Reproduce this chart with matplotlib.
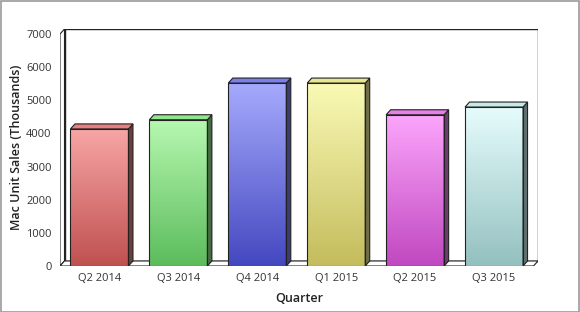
import numpy as np
import matplotlib
matplotlib.use('Agg')
import matplotlib.pyplot as plt
from matplotlib.patches import Polygon, Rectangle
from matplotlib.colors import LinearSegmentedColormap, to_rgb

# Mac unit sales per quarter (thousands)
quarters = ['Q2 2014', 'Q3 2014', 'Q4 2014', 'Q1 2015', 'Q2 2015', 'Q3 2015']
sales = [4136, 4413, 5520, 5519, 4563, 4796]

# gradient colours for each bar: top, bottom
top_colors = ['#f8a6a6', '#b6f8b0', '#a6aafc', '#fafab6', '#fca6fc', '#e6fcfc']
bottom_colors = ['#c05050', '#5cbc5c', '#4448c0', '#c4bc5c', '#c048c0', '#94c0c0']

plt.rcParams['font.family'] = ['Open Sans', 'DejaVu Sans']

W, H = 580, 312
fig = plt.figure(figsize=(W / 100, H / 100), dpi=100)
fig.patch.set_facecolor('white')
fig.add_artist(Rectangle((0.5 / W, 0.5 / H), 1 - 1.5 / W, 1 - 1.5 / H,
                         transform=fig.transFigure, fill=False,
                         edgecolor='#999999', linewidth=1.2))

# axes box in pixels: x 60..538, y 29..266 (from top)
ax = fig.add_axes([60 / W, (H - 266) / H, (538 - 60) / W, (266 - 29) / H])

ymax = 7000
px_x = (533 - 60) / 6.0          # pixels per category
px_y = (266 - 35) / ymax         # pixels per unit
dx = 4.5 / px_x                  # depth offset in data units
dy = 5.0 / px_y

for s in ax.spines.values():
    s.set_visible(False)
ax.patch.set_alpha(0)

edge = '#222222'
# back wall, left wall, floor
ax.add_patch(Rectangle((-0.5 + dx, dy), 6, ymax, facecolor='white',
                       edgecolor=edge, linewidth=1.0, zorder=0))
ax.add_patch(Polygon([(-0.5, 0), (-0.5, ymax), (-0.5 + dx, ymax + dy),
                      (-0.5 + dx, dy)], closed=True, facecolor='white',
                     edgecolor=edge, linewidth=0.8, zorder=0.5))
ax.add_patch(Polygon([(-0.5, 0), (5.5, 0), (5.5 + dx, dy), (-0.5 + dx, dy)],
                     closed=True, facecolor='white', edgecolor=edge,
                     linewidth=0.8, zorder=0.5))


def shade(c, f):
    r, g, b = to_rgb(c)
    return (r * f, g * f, b * f)


w = 0.735
x = np.arange(len(quarters))
bars = ax.bar(x, sales, width=w, facecolor='none', edgecolor=edge,
              linewidth=0.8, zorder=3)
grad = np.linspace(0, 1, 256).reshape(-1, 1)
for i, (b, v) in enumerate(zip(bars, sales)):
    x0, x1 = b.get_x(), b.get_x() + b.get_width()
    cmap = LinearSegmentedColormap.from_list('g', [bottom_colors[i], top_colors[i]])
    im = ax.imshow(grad, cmap=cmap, aspect='auto', origin='lower',
                   extent=(x0, x1, 0, v), zorder=2)
    im.set_clip_path(b)
    mid = [(a + c) / 2 for a, c in zip(to_rgb(top_colors[i]), to_rgb(bottom_colors[i]))]
    ax.add_patch(Polygon([(x1, 0), (x1, v), (x1 + dx, v + dy), (x1 + dx, dy)],
                         closed=True, facecolor=shade(mid, 0.5), edgecolor=edge,
                         linewidth=0.8, zorder=2.5))
    ax.add_patch(Polygon([(x0, v), (x1, v), (x1 + dx, v + dy), (x0 + dx, v + dy)],
                         closed=True, facecolor=shade(mid, 1.05),
                         edgecolor=edge, linewidth=0.8, zorder=2.5))
ax.set_xlim(-0.5, 5.5 + dx)
ax.set_ylim(0, ymax + dy)

ax.set_yticks(range(0, ymax + 1, 1000))
ax.set_xticks(x)
ax.set_xticklabels(quarters)
ax.tick_params(length=0, labelsize=8, colors='#333333')
ax.tick_params(axis='y', pad=6)
ax.tick_params(axis='x', pad=5)
ax.set_xlabel('Quarter', fontsize=9, color='#222222', fontweight='semibold',
              labelpad=6)
ax.set_ylabel('Mac Unit Sales (Thousands)', fontsize=9, color='#222222',
              fontweight='semibold', labelpad=2)

fig.savefig('out.png', dpi=100)
